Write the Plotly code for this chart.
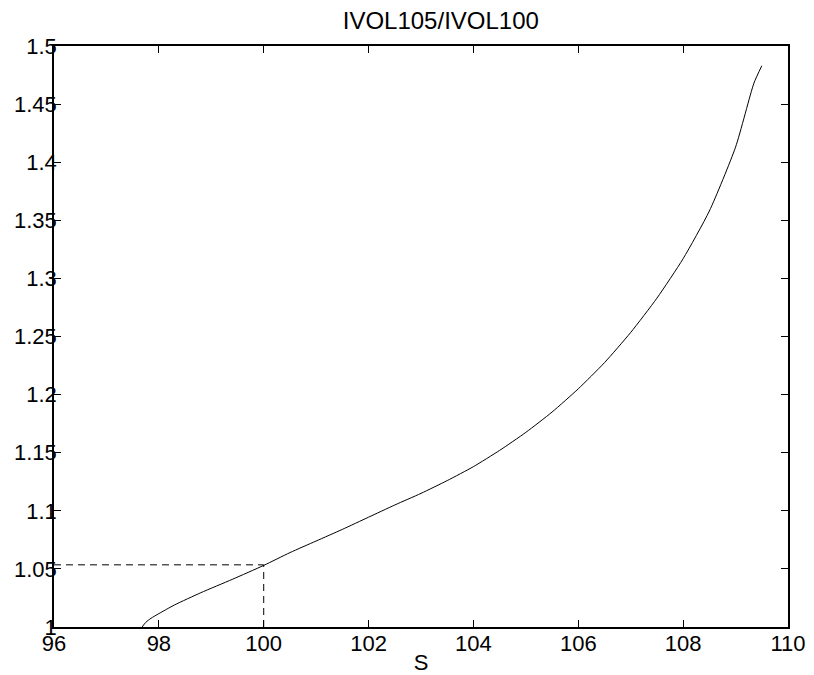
import plotly.graph_objects as go

# Curve data
s_values = [97.68, 97.75, 97.85, 98.0, 98.3, 98.8, 99.4, 100.0, 100.5, 101.0, 101.5,
            102.0, 102.5, 103.0, 103.5, 104.0, 104.5, 105.0, 105.5, 106.0, 106.5,
            107.0, 107.5, 108.0, 108.5, 109.0, 109.35, 109.5]
ratio_values = [1.000, 1.004, 1.0075, 1.0115, 1.019, 1.0295, 1.041, 1.053, 1.064, 1.074, 1.084,
                1.0945, 1.105, 1.115, 1.126, 1.138, 1.152, 1.1675, 1.185, 1.205, 1.2275,
                1.2535, 1.283, 1.317, 1.358, 1.413, 1.468, 1.483]

# Reference point marked by dashed lines
s_ref = 100.0
ratio_ref = 1.0535

x_ticks = [96, 98, 100, 102, 104, 106, 108, 110]
y_ticks = [1.0, 1.05, 1.1, 1.15, 1.2, 1.25, 1.3, 1.35, 1.4, 1.45, 1.5]
y_tick_text = ["1", "1.05", "1.1", "1.15", "1.2", "1.25", "1.3", "1.35", "1.4", "1.45", "1.5"]

FONT = "Liberation Sans, Arial, Helvetica, sans-serif"

fig = go.Figure()
fig.add_trace(go.Scatter(x=[96, s_ref], y=[ratio_ref, ratio_ref], mode="lines",
                         line=dict(color="black", width=1, dash="7px,5px"),
                         showlegend=False, hoverinfo="skip"))
fig.add_trace(go.Scatter(x=[s_ref, s_ref], y=[1.0, ratio_ref], mode="lines",
                         line=dict(color="black", width=1, dash="7px,5px"),
                         showlegend=False, hoverinfo="skip"))
fig.add_trace(go.Scatter(x=s_values, y=ratio_values, mode="lines",
                         line=dict(color="black", width=1, shape="spline", smoothing=0.6),
                         showlegend=False))

fig.update_layout(
    width=814, height=675,
    margin=dict(l=54, r=26, t=46, b=48, autoexpand=False),
    paper_bgcolor="white", plot_bgcolor="white",
    font=dict(family=FONT, color="black"),
    title=dict(text="IVOL105/IVOL100", font=dict(size=24, family=FONT, color="black"),
               x=0.527, xref="paper", xanchor="center",
               y=1 - 21 / 675, yref="container", yanchor="middle"),
    xaxis=dict(range=[96, 110], tickvals=x_ticks, ticktext=[str(v) for v in x_ticks],
               ticks="inside", ticklen=7, tickwidth=1, tickcolor="black",
               showline=True, linecolor="black", linewidth=1.5, mirror="ticks",
               showgrid=False, zeroline=False,
               tickfont=dict(size=22, family=FONT), ticklabelstandoff=-4,
               title=dict(text="S", font=dict(size=22, family=FONT), standoff=0)),
    yaxis=dict(range=[1.0, 1.5], tickvals=y_ticks, ticktext=y_tick_text,
               ticks="inside", ticklen=7, tickwidth=1, tickcolor="black",
               showline=True, linecolor="black", linewidth=1.5, mirror="ticks",
               showgrid=False, zeroline=False,
               tickfont=dict(size=22, family=FONT), ticklabelstandoff=-9),
)

fig.write_html("out.html")
